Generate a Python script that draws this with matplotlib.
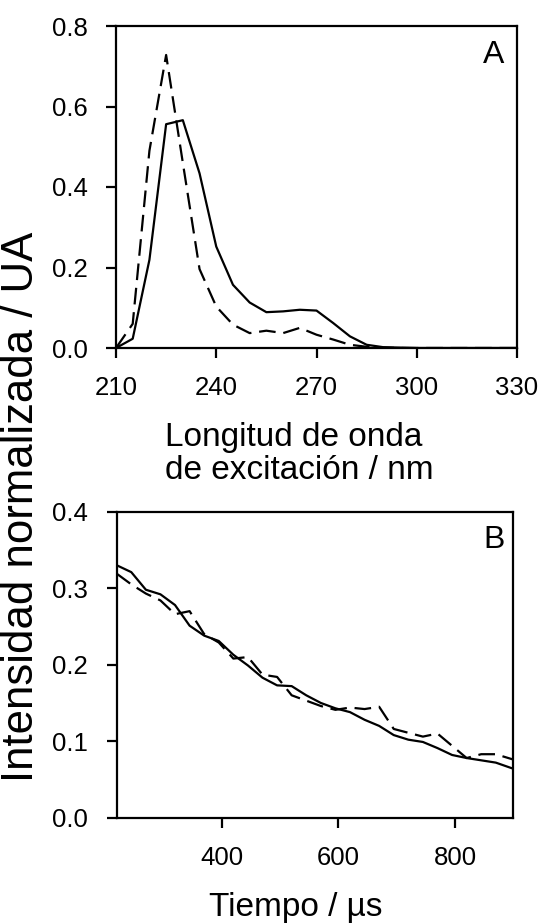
import matplotlib
matplotlib.use("Agg")
import matplotlib.pyplot as plt
from matplotlib.ticker import FormatStrFormatter

plt.rcParams['font.family'] = ['Liberation Sans', 'DejaVu Sans']

# Panel A: excitation spectra
wavelength = [210, 215, 220, 225, 230, 235, 240, 245, 250, 255, 260, 265, 270,
              275, 280, 285, 290, 295, 300, 305, 310, 315, 320, 325, 330]
spec_solid = [0.0, 0.023, 0.219, 0.556, 0.566, 0.434, 0.252, 0.157, 0.113, 0.089,
              0.091, 0.095, 0.093, 0.062, 0.029, 0.008, 0.002, 0.001, 0.0, 0.0,
              0.0, 0.0, 0.0, 0.0, 0.0]
spec_dashed = [0.0, 0.060, 0.490, 0.728, 0.460, 0.196, 0.103, 0.058, 0.037, 0.043,
               0.037, 0.050, 0.033, 0.021, 0.008, 0.003, 0.001, 0.0, 0.0, 0.0,
               0.0, 0.0, 0.0, 0.0, 0.0]

# Panel B: decays
time_us = [220, 245, 270, 295, 320, 345, 370, 395, 420, 445, 470, 495, 520, 545,
           570, 595, 620, 645, 670, 695, 720, 745, 770, 795, 820, 845, 870, 900]
decay_solid = [0.330, 0.321, 0.298, 0.292, 0.278, 0.251, 0.238, 0.231, 0.213, 0.199,
               0.183, 0.173, 0.172, 0.160, 0.150, 0.143, 0.138, 0.128, 0.120, 0.108,
               0.102, 0.099, 0.091, 0.082, 0.078, 0.075, 0.072, 0.064]
decay_dashed = [0.319, 0.305, 0.293, 0.284, 0.266, 0.270, 0.240, 0.229, 0.208, 0.210,
                0.187, 0.184, 0.160, 0.153, 0.146, 0.141, 0.144, 0.142, 0.145, 0.116,
                0.111, 0.106, 0.110, 0.094, 0.078, 0.083, 0.083, 0.076]

W, H = 544, 923
fig = plt.figure(figsize=(W / 100, H / 100), dpi=100)

def frac(x0, y0, x1, y1):
    return [x0 / W, 1 - y1 / H, (x1 - x0) / W, (y1 - y0) / H]

axA = fig.add_axes(frac(116, 26, 517, 348))
axB = fig.add_axes(frac(116.7, 511.7, 513.3, 817.7))

lw = 1.6
for ax in (axA, axB):
    for s in ax.spines.values():
        s.set_linewidth(1.6)
    ax.tick_params(direction='out', length=7.5, width=1.6, labelsize=18.5,
                   pad=13, top=False, right=False)
    ax.yaxis.set_major_formatter(FormatStrFormatter('%.1f'))

axA.plot(wavelength, spec_solid, color='black', lw=lw)
axA.plot(wavelength, spec_dashed, color='black', lw=lw, dashes=(7.5, 3.5))
axA.set_xlim(210, 330)
axA.set_ylim(0, 0.8)
axA.set_xticks([210, 240, 270, 300, 330])
axA.set_yticks([0.0, 0.2, 0.4, 0.6, 0.8])
axA.text(0.968, 0.955, 'A', transform=axA.transAxes, ha='right', va='top', fontsize=23)

axB.plot(time_us, decay_solid, color='black', lw=lw)
axB.plot(time_us, decay_dashed, color='black', lw=lw, dashes=(7.5, 3.5))
axB.set_xlim(220, 900)
axB.set_ylim(0, 0.4)
axB.set_xticks([400, 600, 800])
axB.set_yticks([0.0, 0.1, 0.2, 0.3, 0.4])
axB.text(0.978, 0.955, 'B', transform=axB.transAxes, ha='right', va='top', fontsize=23)

fig.text(165 / W, 1 - 479 / H, 'Longitud de onda\nde excitación / nm', ha='left',
         va='baseline', fontsize=24, linespacing=1.1, multialignment='left')
fig.text(295.5 / W, 1 - 916 / H, 'Tiempo / µs', ha='center', va='baseline', fontsize=24)
fig.text(22 / W, 1 - 507 / H, 'Intensidad normalizada / UA', ha='center', va='center',
         rotation=90, fontsize=31.5)

fig.savefig('out.png', dpi=100)
